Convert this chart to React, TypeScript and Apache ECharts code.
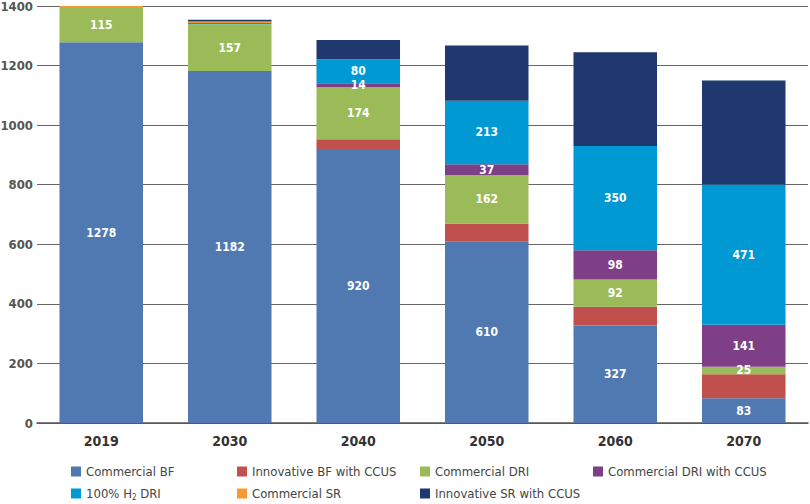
import React, { useEffect, useRef } from "react";
import * as echarts from "echarts";

const years = ["2019", "2030", "2040", "2050", "2060", "2070"];

const seriesNames = [
  "Commercial BF",
  "Innovative BF with CCUS",
  "Commercial DRI",
  "Commercial DRI with CCUS",
  "100% H2 DRI",
  "Commercial SR",
  "Innovative SR with CCUS",
];

const commercialBF = [1278, 1182, 920, 610, 327, 83];
const innovativeBF = [0, 0, 33, 60, 63, 81];
const commercialDRI = [115, 157, 174, 162, 92, 25];
const commercialDRICCUS = [0, 0, 14, 37, 98, 141];
const h2DRI = [0, 4, 80, 213, 350, 471];
const commercialSR = [8, 5, 0, 0, 0, 0];
const innovativeSR = [0, 6, 65, 185, 315, 349];

const seriesValues = [
  commercialBF,
  innovativeBF,
  commercialDRI,
  commercialDRICCUS,
  h2DRI,
  commercialSR,
  innovativeSR,
];

const seriesLabelled = [true, false, true, true, true, false, false];

const colors = ["#5079b1", "#c0504d", "#9bbb59", "#7f3f86", "#0099d3", "#f39a32", "#1f396e"];

const yTicks = { min: 0, max: 1400, interval: 200 };

const FONT = "'DejaVu Sans Condensed', 'DejaVu Sans', sans-serif";

export default function App() {
  const ref = useRef<HTMLDivElement>(null);

  useEffect(() => {
    if (!ref.current) return;
    const chart = echarts.init(ref.current, null, { renderer: "svg" });

    const legendCols = [
      { left: 71, items: [seriesNames[0], seriesNames[4]] },
      { left: 237, items: [seriesNames[1], seriesNames[5]] },
      { left: 420, items: [seriesNames[2], seriesNames[6]] },
      { left: 593, items: [seriesNames[3]] },
    ];

    const legendText = {
      fontFamily: FONT,
      fontSize: 13,
      color: "#444",
      rich: {
        t: { fontFamily: FONT, fontSize: 13, color: "#444" },
        s: { fontFamily: FONT, fontSize: 8, color: "#444", padding: [7, 0, 0, 0] },
      },
    };

    const option: any = {
      animation: false,
      grid: {
        left: 37,
        right: 2,
        top: 6,
        bottom: 81,
        containLabel: false,
        outerBoundsMode: "none",
      },
      legend: legendCols.map((c) => ({
        data: c.items,
        orient: "vertical",
        left: c.left,
        top: 465,
        itemWidth: 10,
        itemHeight: 10,
        itemGap: 9,
        icon: "rect",
        padding: 0,
        selectedMode: false,
        textStyle: legendText,
        formatter: (name: string) =>
          name === "100% H2 DRI" ? "{t|100% H}{s|2}{t| DRI}" : name,
      })),
      xAxis: {
        type: "category",
        data: years,
        axisTick: { show: false },
        axisLine: { show: true, lineStyle: { color: "#555", width: 1.5 } },
        axisLabel: {
          margin: 11,
          fontFamily: FONT,
          fontSize: 14,
          fontWeight: "bold",
          color: "#333",
        },
      },
      yAxis: {
        type: "value",
        min: yTicks.min,
        max: yTicks.max,
        interval: yTicks.interval,
        axisLine: { show: false },
        axisTick: { show: false },
        splitLine: { lineStyle: { color: "#666", width: 1.2 } },
        axisLabel: {
          margin: 4,
          fontFamily: FONT,
          fontSize: 13,
          fontWeight: "bold",
          color: "#555",
          formatter: (v: number) => String(v),
        },
      },
      series: seriesNames.map((name, i) => ({
        name,
        type: "bar",
        stack: "total",
        barCategoryGap: "35%",
        itemStyle: { color: colors[i] },
        data: seriesValues[i],
        label: {
          show: seriesLabelled[i],
          position: "inside",
          color: "#fff",
          fontFamily: FONT,
          fontSize: 12,
          fontWeight: "bold",
          formatter: (p: any) => (p.value >= 10 ? String(p.value) : ""),
        },
      })),
    };

    chart.setOption(option);
    return () => chart.dispose();
  }, []);

  return (
    <div
      ref={ref}
      style={{ position: "absolute", left: 0, top: 0, width: 810, height: 504 }}
    />
  );
}
